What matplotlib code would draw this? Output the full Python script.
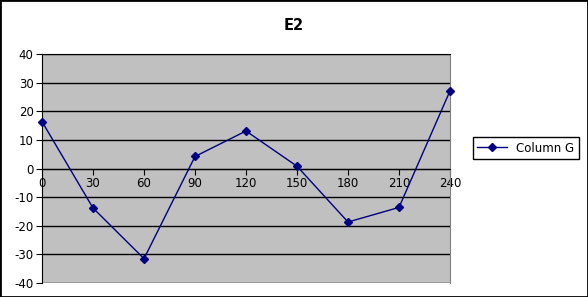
import matplotlib
matplotlib.use('Agg')
import matplotlib.pyplot as plt
from matplotlib.patches import Rectangle

plt.rcParams['axes.unicode_minus'] = False

angles = [0, 30, 60, 90, 120, 150, 180, 210, 240]
column_g = [16.4, -13.8, -31.5, 4.2, 13.1, 0.8, -18.7, -13.6, 27.1]
y_ticks = [-40, -30, -20, -10, 0, 10, 20, 30, 40]

fig = plt.figure(figsize=(5.88, 2.97), dpi=100)
fig.patch.set_facecolor('white')
fig.patches.append(Rectangle((0, 0), 1, 1, transform=fig.transFigure,
                             fill=False, edgecolor='black', linewidth=2))

W, H = 588, 297
ax = fig.add_axes([42 / W, (H - 283) / H, 408 / W, 229 / H])
ax.set_facecolor('#c0c0c0')

ax.plot(angles, column_g, color='#000080', marker='D', markersize=4.5,
        linewidth=1, label='Column G', clip_on=False, zorder=3)

ax.set_xlim(0, 240)
ax.set_ylim(-40, 40)
ax.set_xticks(angles)
ax.set_yticks(y_ticks)
ax.yaxis.grid(True, color='black', linewidth=1)
ax.set_axisbelow(True)

ax.spines['bottom'].set_position(('data', 0))
ax.spines['bottom'].set_color('black')
ax.spines['left'].set_color('black')
ax.spines['top'].set_color('black')
ax.spines['right'].set_color('#808080')
ax.tick_params(axis='x', direction='out', length=4, pad=2, labelsize=8.5, color='black')
ax.tick_params(axis='y', direction='out', length=4, pad=2, labelsize=8.5, color='black')

fig.text(0.5, 1 - 25 / H, 'E2', ha='center', va='center', fontsize=10.5, fontweight='bold')

fig.legend(loc='center', bbox_to_anchor=(526 / W, 1 - 148 / H), fontsize=8.5,
           frameon=True, fancybox=False, edgecolor='black', framealpha=1,
           handlelength=2.5, borderpad=0.4, borderaxespad=0)

fig.savefig('out.png', dpi=100)
